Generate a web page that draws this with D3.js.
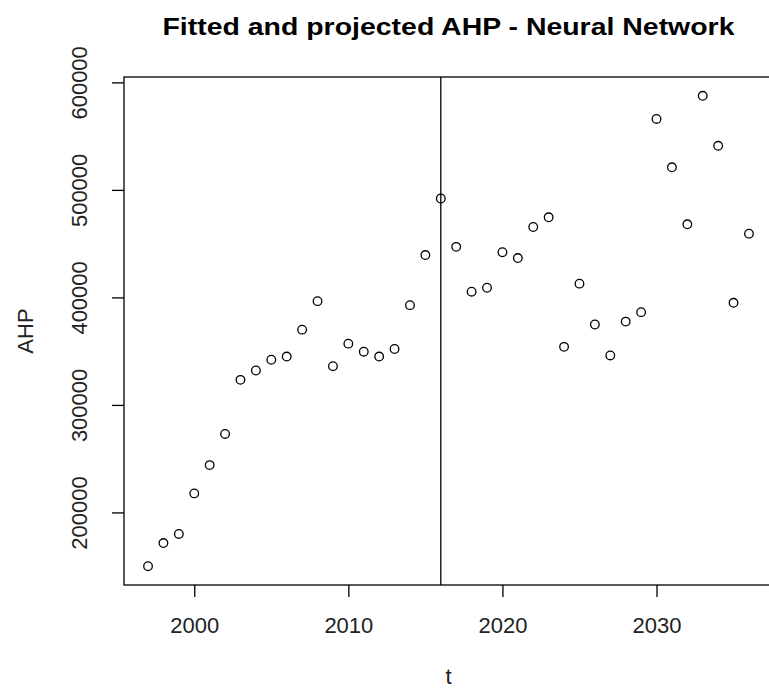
<!DOCTYPE html>
<html lang="en">
<head>
  <meta charset="UTF-8" />
  <title>Fitted and projected AHP - Neural Network</title>
  <script src="https://d3js.org/d3.v7.min.js"></script>
  <style>
    html, body {
      margin: 0;
      background: #fff;
      overflow: hidden;
    }
    svg {
      display: block;
      font-family: "Liberation Sans", Arial, sans-serif;
    }
    .axis path { display: none; }
    .axis line { stroke: #000; stroke-width: 1.3; }
    .axis text { fill: #222; font-size: 22px; }
    .point { fill: none; stroke: #000; stroke-width: 1.3; }
  </style>
</head>
<body>
  <svg id="chart"></svg>
  <script>
    // years (t) and fitted / projected AHP values
    const years = [
      1997, 1998, 1999, 2000, 2001, 2002, 2003, 2004, 2005, 2006,
      2007, 2008, 2009, 2010, 2011, 2012, 2013, 2014, 2015, 2016,
      2017, 2018, 2019, 2020, 2021, 2022, 2023, 2024, 2025, 2026,
      2027, 2028, 2029, 2030, 2031, 2032, 2033, 2034, 2035, 2036
    ];
    const ahp = [
      150000, 171500, 180000, 217700, 244000, 273000, 323300, 332000, 342000, 345000,
      370000, 396500, 336000, 357000, 349500, 345000, 352000, 392800, 439400, 492000,
      447000, 405300, 409000, 442000, 436600, 465500, 474500, 354000, 412800, 374800,
      346000, 377500, 386300, 566000, 521000, 468000, 587500, 541000, 395000, 459300
    ];
    const splitYear = 2016;
    const xTicks = [2000, 2010, 2020, 2030];
    const yTicks = [200000, 300000, 400000, 500000, 600000];

    const W = 769, H = 688;
    const plot = { left: 124, top: 77, right: 773, bottom: 585 };

    const svg = d3.select('#chart').attr('width', W).attr('height', H);

    // R-style 4% padding on both axes
    function padded(ext) {
      const r = ext[1] - ext[0];
      return [ext[0] - 0.04 * r, ext[1] + 0.04 * r];
    }

    const x = d3.scaleLinear()
      .domain(padded(d3.extent(years)))
      .range([plot.left, plot.right]);
    const y = d3.scaleLinear()
      .domain(padded(d3.extent(ahp)))
      .range([plot.bottom, plot.top]);

    const data = years.map((t, i) => ({ t: t, v: ahp[i] }));

    // box
    svg.append('rect')
      .attr('x', plot.left)
      .attr('y', plot.top)
      .attr('width', plot.right - plot.left)
      .attr('height', plot.bottom - plot.top)
      .attr('fill', 'none')
      .attr('stroke', '#000')
      .attr('stroke-width', 1.3);

    // x axis
    const xAxis = svg.append('g')
      .attr('class', 'axis')
      .attr('transform', `translate(0,${plot.bottom})`)
      .call(d3.axisBottom(x).tickValues(xTicks).tickSize(12).tickPadding(0).tickFormat(d3.format('d')));
    xAxis.selectAll('text').attr('dy', null).attr('y', 48);

    // y axis, labels parallel to the axis
    const yAxis = svg.append('g')
      .attr('class', 'axis')
      .attr('transform', `translate(${plot.left},0)`)
      .call(d3.axisLeft(y).tickValues(yTicks).tickSize(12).tickFormat(d3.format('d')));
    yAxis.selectAll('.tick text')
      .attr('x', null).attr('dy', null)
      .attr('text-anchor', 'middle')
      .attr('transform', 'translate(-37,0) rotate(-90)');

    // vertical line at the end of the fitted part
    svg.append('line')
      .attr('x1', x(splitYear)).attr('x2', x(splitYear))
      .attr('y1', plot.top).attr('y2', plot.bottom)
      .attr('stroke', '#000')
      .attr('stroke-width', 1.3);

    // points
    svg.append('g')
      .selectAll('circle')
      .data(data)
      .join('circle')
      .attr('class', 'point')
      .attr('cx', d => x(d.t))
      .attr('cy', d => y(d.v))
      .attr('r', 4.3);

    // titles
    svg.append('text')
      .attr('x', (plot.left + plot.right) / 2)
      .attr('y', 35)
      .attr('text-anchor', 'middle')
      .attr('font-weight', 'bold')
      .attr('font-size', 24)
      .attr('textLength', 572)
      .attr('lengthAdjust', 'spacingAndGlyphs')
      .attr('fill', '#000')
      .text('Fitted and projected AHP - Neural Network');

    svg.append('text')
      .attr('x', (plot.left + plot.right) / 2)
      .attr('y', 684)
      .attr('text-anchor', 'middle')
      .attr('font-size', 22)
      .attr('fill', '#222')
      .text('t');

    svg.append('text')
      .attr('transform', `translate(33,${(plot.top + plot.bottom) / 2}) rotate(-90)`)
      .attr('text-anchor', 'middle')
      .attr('font-size', 22)
      .attr('fill', '#222')
      .text('AHP');
  </script>
</body>
</html>
